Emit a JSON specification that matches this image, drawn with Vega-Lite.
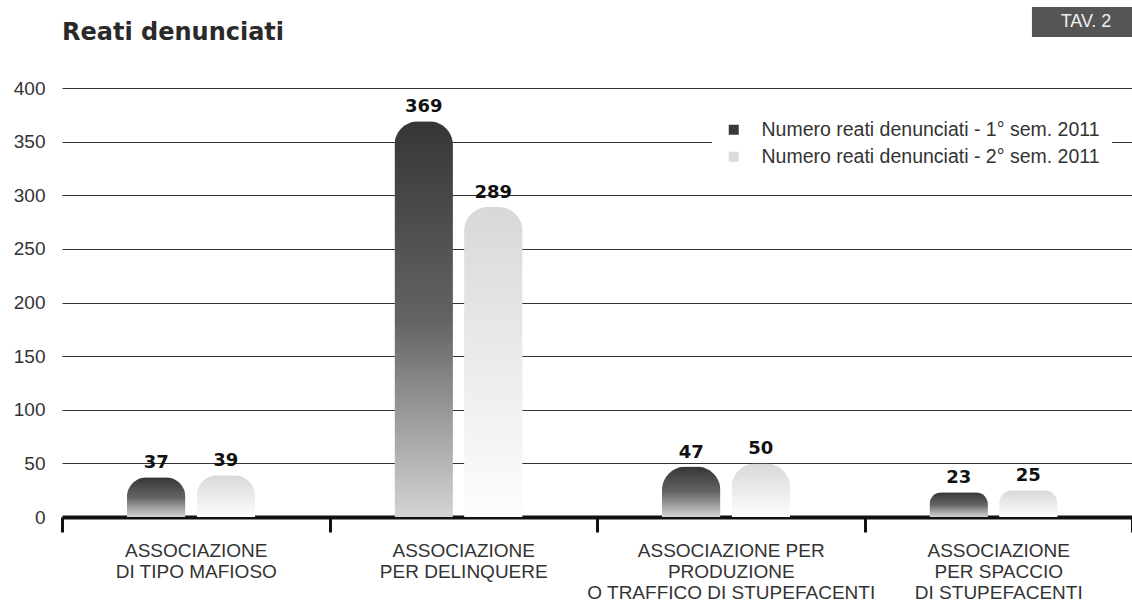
{
  "$schema": "https://vega.github.io/schema/vega-lite/v6.json",
  "width": 1070,
  "height": 429,
  "autosize": {"type": "none"},
  "padding": {"left": 62, "top": 88, "right": 0, "bottom": 84},
  "background": "white",
  "config": {"view": {"stroke": null}},
  "data": {
    "values": [
      {"categoria": "ASSOCIAZIONE|DI TIPO MAFIOSO", "serie": "Numero reati denunciati - 1° sem. 2011", "reati": 37},
      {"categoria": "ASSOCIAZIONE|DI TIPO MAFIOSO", "serie": "Numero reati denunciati - 2° sem. 2011", "reati": 39},
      {"categoria": "ASSOCIAZIONE|PER DELINQUERE", "serie": "Numero reati denunciati - 1° sem. 2011", "reati": 369},
      {"categoria": "ASSOCIAZIONE|PER DELINQUERE", "serie": "Numero reati denunciati - 2° sem. 2011", "reati": 289},
      {"categoria": "ASSOCIAZIONE PER|PRODUZIONE|O TRAFFICO DI STUPEFACENTI", "serie": "Numero reati denunciati - 1° sem. 2011", "reati": 47},
      {"categoria": "ASSOCIAZIONE PER|PRODUZIONE|O TRAFFICO DI STUPEFACENTI", "serie": "Numero reati denunciati - 2° sem. 2011", "reati": 50},
      {"categoria": "ASSOCIAZIONE|PER SPACCIO|DI STUPEFACENTI", "serie": "Numero reati denunciati - 1° sem. 2011", "reati": 23},
      {"categoria": "ASSOCIAZIONE|PER SPACCIO|DI STUPEFACENTI", "serie": "Numero reati denunciati - 2° sem. 2011", "reati": 25}
    ]
  },
  "layer": [
    {
      "encoding": {
        "x": {
          "field": "categoria", "type": "nominal",
          "scale": {"domain": ["ASSOCIAZIONE|DI TIPO MAFIOSO", "ASSOCIAZIONE|PER DELINQUERE", "ASSOCIAZIONE PER|PRODUZIONE|O TRAFFICO DI STUPEFACENTI", "ASSOCIAZIONE|PER SPACCIO|DI STUPEFACENTI"], "paddingInner": 0, "paddingOuter": 0},
          "axis": {
            "title": null,
            "labelExpr": "split(datum.label, '|')",
            "labelFont": "Liberation Sans",
            "labelFontSize": 19,
            "labelColor": "#333",
            "labelLineHeight": 21,
            "labelPadding": 9,
            "labelAngle": 0,
            "labelBaseline": "top",
            "labelLimit": 500,
            "tickBand": "extent",
            "tickSize": 15,
            "tickWidth": 3,
            "tickColor": "#111",
            "domainColor": "#111",
            "domainWidth": 4,
            "grid": false
          }
        },
        "y": {
          "field": "reati", "type": "quantitative",
          "scale": {"domain": [0, 400], "nice": false},
          "axis": {
            "title": null,
            "values": [0, 50, 100, 150, 200, 250, 300, 350, 400],
            "domain": false,
            "ticks": false,
            "grid": true,
            "gridColor": "#333333",
            "gridWidth": 1.1,
            "labelFont": "Liberation Sans",
            "labelFontSize": 19,
            "labelColor": "#333",
            "labelPadding": 17
          }
        }
      },
      "layer": [
        {
          "transform": [{"filter": "datum.serie == 'Numero reati denunciati - 1° sem. 2011'"}],
          "mark": {
            "type": "bar",
            "cornerRadiusTopLeft": 24,
            "cornerRadiusTopRight": 24,
            "fill": {
              "gradient": "linear", "x1": 0, "y1": 0, "x2": 0, "y2": 1,
              "stops": [
                {"offset": 0, "color": "#363636"},
                {"offset": 0.5, "color": "#636363"},
                {"offset": 1, "color": "#d4d4d4"}
              ]
            }
          },
          "encoding": {
            "xOffset": {
              "field": "serie", "type": "nominal",
              "scale": {"paddingInner": 0.16, "paddingOuter": 1.425, "align": 0.466}
            }
          }
        },
        {
          "transform": [{"filter": "datum.serie == 'Numero reati denunciati - 2° sem. 2011'"}],
          "mark": {
            "type": "bar",
            "cornerRadiusTopLeft": 24,
            "cornerRadiusTopRight": 24,
            "fill": {
              "gradient": "linear", "x1": 0, "y1": 0, "x2": 0, "y2": 1,
              "stops": [
                {"offset": 0, "color": "#d8d8d8"},
                {"offset": 0.5, "color": "#ebebeb"},
                {"offset": 1, "color": "#fdfdfd"}
              ]
            }
          },
          "encoding": {
            "xOffset": {
              "field": "serie", "type": "nominal",
              "scale": {"paddingInner": 0.16, "paddingOuter": 1.425, "align": 0.466}
            }
          }
        },
        {
          "mark": {"type": "point", "shape": "square", "filled": true, "opacity": 0},
          "encoding": {
            "color": {
              "field": "serie", "type": "nominal",
              "scale": {"domain": ["Numero reati denunciati - 1° sem. 2011", "Numero reati denunciati - 2° sem. 2011"], "range": ["#3a3a3a", "#dcdcdc"]},
              "legend": {
                "title": null,
                "orient": "top-right",
                "offset": 20,
                "fillColor": "white",
                "padding": 12,
                "symbolType": "square",
                "symbolSize": 100,
                "symbolOpacity": 1,
                "symbolStrokeWidth": 0,
                "labelFont": "Liberation Sans",
                "labelFontSize": 19.5,
                "labelColor": "#333",
                "labelOffset": 18,
                "labelLimit": 500,
                "rowPadding": 6
              }
            }
          }
        },
        {
          "mark": {"type": "text", "baseline": "alphabetic", "dy": -9, "font": "DejaVu Sans", "fontSize": 18, "fontWeight": "bold", "fill": "#111"},
          "encoding": {
            "xOffset": {
              "field": "serie", "type": "nominal",
              "scale": {"paddingInner": 0.16, "paddingOuter": 1.425, "align": 0.466}
            },
            "text": {"field": "reati", "type": "quantitative"}
          }
        }
      ]
    },
    {
      "data": {"values": [{"etichetta": "TAV. 2"}]},
      "mark": {"type": "rect", "fill": "#555555"},
      "encoding": {
        "x": {
          "datum": "ASSOCIAZIONE|PER SPACCIO|DI STUPEFACENTI", "type": "nominal", "bandPosition": 0.626,
          "scale": {"domain": ["ASSOCIAZIONE|DI TIPO MAFIOSO", "ASSOCIAZIONE|PER DELINQUERE", "ASSOCIAZIONE PER|PRODUZIONE|O TRAFFICO DI STUPEFACENTI", "ASSOCIAZIONE|PER SPACCIO|DI STUPEFACENTI"], "paddingInner": 0, "paddingOuter": 0}
        },
        "x2": {"datum": "ASSOCIAZIONE|PER SPACCIO|DI STUPEFACENTI", "bandPosition": 1},
        "y": {"datum": 447.6, "type": "quantitative", "scale": {"domain": [0, 400], "nice": false}},
        "y2": {"datum": 475.5}
      }
    },
    {
      "data": {"values": [{"etichetta": "TAV. 2"}]},
      "mark": {"type": "text", "baseline": "middle", "align": "center", "font": "Liberation Sans", "fontSize": 18, "fill": "#eeeeee"},
      "encoding": {
        "x": {
          "datum": "ASSOCIAZIONE|PER SPACCIO|DI STUPEFACENTI", "type": "nominal", "bandPosition": 0.828,
          "scale": {"domain": ["ASSOCIAZIONE|DI TIPO MAFIOSO", "ASSOCIAZIONE|PER DELINQUERE", "ASSOCIAZIONE PER|PRODUZIONE|O TRAFFICO DI STUPEFACENTI", "ASSOCIAZIONE|PER SPACCIO|DI STUPEFACENTI"], "paddingInner": 0, "paddingOuter": 0}
        },
        "y": {"datum": 461.5, "type": "quantitative", "scale": {"domain": [0, 400], "nice": false}},
        "text": {"field": "etichetta", "type": "nominal"}
      }
    },
    {
      "data": {"values": [{"titolo": "Reati denunciati"}]},
      "mark": {"type": "text", "baseline": "alphabetic", "align": "left", "font": "DejaVu Sans", "fontSize": 24, "fontWeight": "bold", "fill": "#2a2a2a"},
      "encoding": {
        "x": {
          "datum": "ASSOCIAZIONE|DI TIPO MAFIOSO", "type": "nominal", "bandPosition": 0,
          "scale": {"domain": ["ASSOCIAZIONE|DI TIPO MAFIOSO", "ASSOCIAZIONE|PER DELINQUERE", "ASSOCIAZIONE PER|PRODUZIONE|O TRAFFICO DI STUPEFACENTI", "ASSOCIAZIONE|PER SPACCIO|DI STUPEFACENTI"], "paddingInner": 0, "paddingOuter": 0}
        },
        "y": {"datum": 444.8, "type": "quantitative", "scale": {"domain": [0, 400], "nice": false}},
        "text": {"field": "titolo", "type": "nominal"}
      }
    }
  ]
}
